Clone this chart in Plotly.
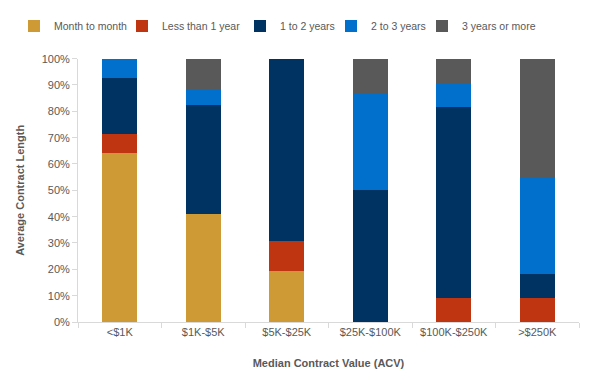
import plotly.graph_objects as go

categories = ["<$1K", "$1K-$5K", "$5K-$25K", "$25K-$100K", "$100K-$250K", ">$250K"]
month_to_month = [64.3, 41.2, 19.2, 0, 0, 0]
less_than_1_year = [7.1, 0, 11.5, 0, 9.1, 9.1]
one_to_two_years = [21.4, 41.2, 69.3, 50.0, 72.7, 9.1]
two_to_three_years = [7.2, 5.9, 0, 36.4, 9.1, 36.4]
three_plus_years = [0, 11.7, 0, 13.6, 9.1, 45.4]

series_names = ["Month to month", "Less than 1 year", "1 to 2 years", "2 to 3 years", "3 years or more"]
series_values = [month_to_month, less_than_1_year, one_to_two_years, two_to_three_years, three_plus_years]
series_colors = ["#CD9A35", "#BF3511", "#003262", "#0070CC", "#595959"]
legend_left_px = [6, 114, 232, 323, 414]

font_color = "#595959"
fig = go.Figure()
legend_layouts = {}
for i, (name, vals, color) in enumerate(zip(series_names, series_values, series_colors)):
    key = f"legend{i + 2}"
    fig.add_trace(go.Bar(
        x=categories, y=[v / 100 for v in vals], name=name,
        marker=dict(color=color, line=dict(width=0)),
        legend=key, showlegend=True,
    ))
    legend_layouts[key] = dict(
        orientation="h", xref="container", yref="container",
        x=legend_left_px[i] / 610, xanchor="left", y=1 - 18 / 382, yanchor="middle",
        font=dict(size=10.5, color=font_color), itemwidth=30,
        bgcolor="rgba(0,0,0,0)", visible=True,
    )

fig.update_layout(
    barmode="stack",
    bargap=0.58,
    width=610, height=382,
    showlegend=True,
    margin=dict(l=70, r=39, t=41, b=68),
    plot_bgcolor="white", paper_bgcolor="white",
    font=dict(family="Liberation Sans, Arial, sans-serif", size=11, color=font_color),
    xaxis=dict(
        showgrid=False, showline=True, linecolor="#D9D9D9", linewidth=1,
        ticks="outside", tickson="boundaries", ticklen=5, tickcolor="#D9D9D9",
        title=dict(text="<b>Median Contract Value (ACV)</b>", font=dict(size=11, color=font_color), standoff=22),
    ),
    yaxis=dict(
        range=[0, 1], tickformat=".0%", dtick=0.1, showgrid=False,
        showline=True, linecolor="#D9D9D9", linewidth=1,
        ticks="outside", ticklen=5, tickcolor="#D9D9D9",
        title=dict(text="<b>Average Contract Length</b>", font=dict(size=11, color=font_color), standoff=14),
    ),
    **legend_layouts,
)

fig.write_html("out.html")
